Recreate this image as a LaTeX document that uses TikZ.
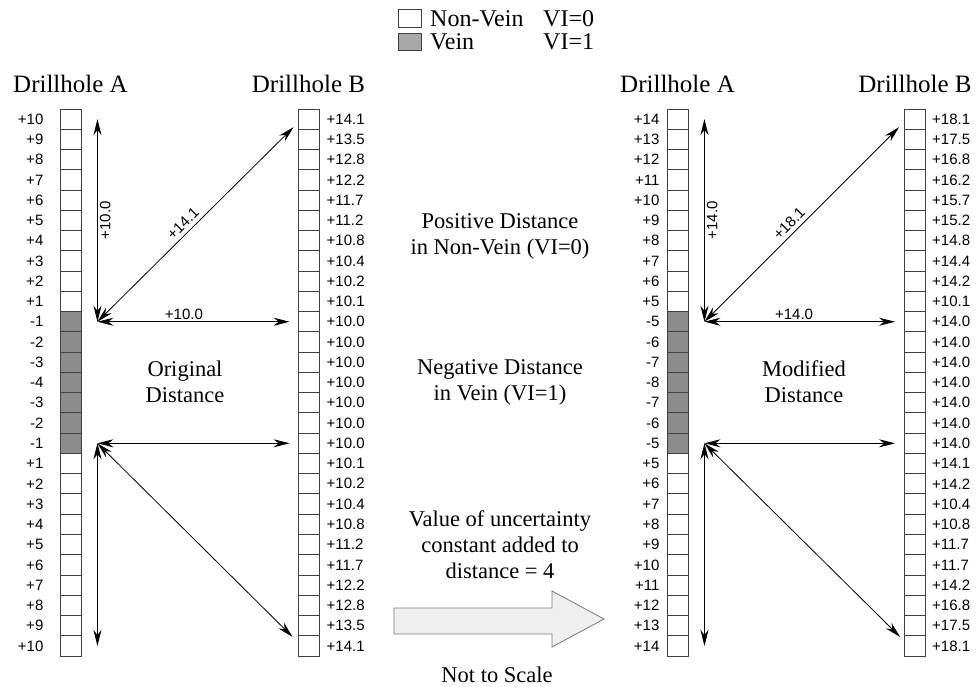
\documentclass[tikz,border=0pt]{standalone}
\usepackage{fontspec}
\setmainfont{Liberation Serif}
\setsansfont{Liberation Sans}
\usetikzlibrary{arrows.meta}
\usetikzlibrary{positioning}
\definecolor{VeinGray}{HTML}{8C8C8C}
\definecolor{LegendGray}{HTML}{A8A8A8}
\definecolor{CellEdge}{HTML}{404040}
\definecolor{ArrowFill}{HTML}{EFEFEF}
\definecolor{ArrowEdge}{HTML}{7A7A7A}
\tikzset{
  cell/.style={draw=CellEdge, line width=0.9pt, minimum width=21pt, minimum height=20.26pt, inner sep=0pt},
  num/.style={font=\sffamily\fontsize{15}{18}\selectfont, inner sep=0pt},
  dimline/.style={{Stealth[length=16pt,width=8pt]}-{Stealth[length=16pt,width=8pt]}, line width=0.8pt},
  dimlabel/.style={font=\sffamily\fontsize{15}{18}\selectfont, inner sep=2pt},
  titre/.style={font=\fontsize{25}{30}\selectfont, anchor=base},
  legende/.style={font=\fontsize{24}{28}\selectfont, anchor=base west, inner sep=0pt},
  texte/.style={font=\fontsize{22.5}{26}\selectfont, align=center}
}
\begin{document}
\begin{tikzpicture}[x=1pt,y=-1pt]
\useasboundingbox (0,0) rectangle (976,687);

% Legende
\node[cell, minimum width=23pt, minimum height=18pt] (legNV) at (409.5,18) {};
\node[cell, fill=LegendGray, minimum width=23pt, minimum height=17pt] (legV) at (409.5,41.5) {};
\node[legende] (txtNV) at (430,27) {Non-Vein};
\node[legende] (viNV) at (543,27) {VI=0};
\node[legende] (txtV) at (430,50) {Vein};
\node[legende] (viV) at (543,50) {VI=1};

% Sondages, distance originale
\foreach \lab [count=\i] in {+10,+9,+8,+7,+6,+5,+4,+3,+2,+1,-1,-2,-3,-4,-3,-2,-1,+1,+2,+3,+4,+5,+6,+7,+8,+9,+10}{
  \pgfmathsetmacro\y{109+(\i-0.5)*20.26}
  \ifnum\i>10 \ifnum\i<18 \def\fc{VeinGray}\else\def\fc{white}\fi\else\def\fc{white}\fi
  \node[cell, fill=\fc] (Ao\i) at (70.5,\y) {};
  \node[num, left=16pt of Ao\i] (nAo\i) {\lab};
}
\foreach \lab [count=\i] in {+14.1,+13.5,+12.8,+12.2,+11.7,+11.2,+10.8,+10.4,+10.2,+10.1,+10.0,+10.0,+10.0,+10.0,+10.0,+10.0,+10.0,+10.1,+10.2,+10.4,+10.8,+11.2,+11.7,+12.2,+12.8,+13.5,+14.1}{
  \pgfmathsetmacro\y{109+(\i-0.5)*20.26}
  \node[cell] (Bo\i) at (308.5,\y) {};
  \node[num, right=7pt of Bo\i] (nBo\i) {\lab};
}
\node[titre] (titAo) at ([yshift=16pt]Ao1.north) {Drillhole A};
\node[titre] (titBo) at ([yshift=16pt]Bo1.north) {Drillhole B};

% Sondages, distance modifiee
\foreach \lab [count=\i] in {+14,+13,+12,+11,+10,+9,+8,+7,+6,+5,-5,-6,-7,-8,-7,-6,-5,+5,+6,+7,+8,+9,+10,+11,+12,+13,+14}{
  \pgfmathsetmacro\y{109+(\i-0.5)*20.26}
  \ifnum\i>10 \ifnum\i<18 \def\fc{VeinGray}\else\def\fc{white}\fi\else\def\fc{white}\fi
  \node[cell, fill=\fc] (Am\i) at (677.5,\y) {};
  \node[num, left=7pt of Am\i] (nAm\i) {\lab};
}
\foreach \lab [count=\i] in {+18.1,+17.5,+16.8,+16.2,+15.7,+15.2,+14.8,+14.4,+14.2,+10.1,+14.0,+14.0,+14.0,+14.0,+14.0,+14.0,+14.0,+14.1,+14.2,+10.4,+10.8,+11.7,+11.7,+14.2,+16.8,+17.5,+18.1}{
  \pgfmathsetmacro\y{109+(\i-0.5)*20.26}
  \node[cell] (Bm\i) at (915,\y) {};
  \node[num, right=6pt of Bm\i] (nBm\i) {\lab};
}
\node[titre] (titAm) at ([yshift=16pt]Am1.north) {Drillhole A};
\node[titre] (titBm) at ([yshift=16pt]Bm1.north) {Drillhole B};

% Fleches de distance, originale
\coordinate (cOa) at ([xshift=16pt]Ao11.east);
\coordinate (cOb) at ([xshift=16pt]Ao17.east);
\coordinate (upO) at ([xshift=16pt]Ao1.east);
\coordinate (dnO) at ([xshift=16pt]Ao27.east);
\coordinate (rgtOa) at ([xshift=-8pt]Bo11.west);
\coordinate (rgtOb) at ([xshift=-8pt]Bo17.west);
\coordinate (dgOa) at ([xshift=-4pt,yshift=-8pt]Bo1.west);
\coordinate (dgOb) at ([xshift=-5pt,yshift=9pt]Bo27.west);
\draw[dimline] (cOa) -- node[dimlabel, rotate=90, below] {+10.0} (upO);
\draw[dimline] (cOa) -- node[dimlabel, sloped, above, pos=0.47, inner sep=4pt] {+14.1} (dgOa);
\draw[dimline] (cOa) -- node[dimlabel, above, pos=0.45] {+10.0} (rgtOa);
\draw[dimline] (cOb) -- (rgtOb);
\draw[dimline] (cOb) -- (dnO);
\draw[dimline] (cOb) -- (dgOb);

% Fleches de distance, modifiee
\coordinate (cMa) at ([xshift=16pt]Am11.east);
\coordinate (cMb) at ([xshift=16pt]Am17.east);
\coordinate (upM) at ([xshift=16pt]Am1.east);
\coordinate (dnM) at ([xshift=16pt]Am27.east);
\coordinate (rgtMa) at ([xshift=-9pt]Bm11.west);
\coordinate (rgtMb) at ([xshift=-9pt]Bm17.west);
\coordinate (dgMa) at ([xshift=-5pt,yshift=-8pt]Bm1.west);
\coordinate (dgMb) at ([xshift=-4pt,yshift=9pt]Bm27.west);
\draw[dimline] (cMa) -- node[dimlabel, rotate=90, below] {+14.0} (upM);
\draw[dimline] (cMa) -- node[dimlabel, sloped, above, pos=0.47, inner sep=4pt] {+18.1} (dgMa);
\draw[dimline] (cMa) -- node[dimlabel, above, pos=0.47] {+14.0} (rgtMa);
\draw[dimline] (cMb) -- (rgtMb);
\draw[dimline] (cMb) -- (dnM);
\draw[dimline] (cMb) -- (dgMb);

% Textes
\node[texte] (orig) at (185,382) {Original\\Distance};
\node[texte] (modif) at (804,382) {Modified\\Distance};
\node[texte] (posdist) at (500,236.5) {Positive Distance\\in Non-Vein (VI=0)};
\node[texte] (negdist) at (500,382.5) {Negative Distance\\in Vein (VI=1)};
\node[texte] (incert) at (500,545) {Value of uncertainty\\constant added to\\distance = 4};
\node[texte, anchor=base] (echelle) at (497,682) {Not to Scale};

% Grosse fleche
\draw[draw=ArrowEdge, fill=ArrowFill, line width=0.8pt] (394,608) -- (552,608) -- (552,591) -- (604,619) -- (552,647) -- (552,634) -- (394,634) -- cycle;
\end{tikzpicture}
\end{document}
